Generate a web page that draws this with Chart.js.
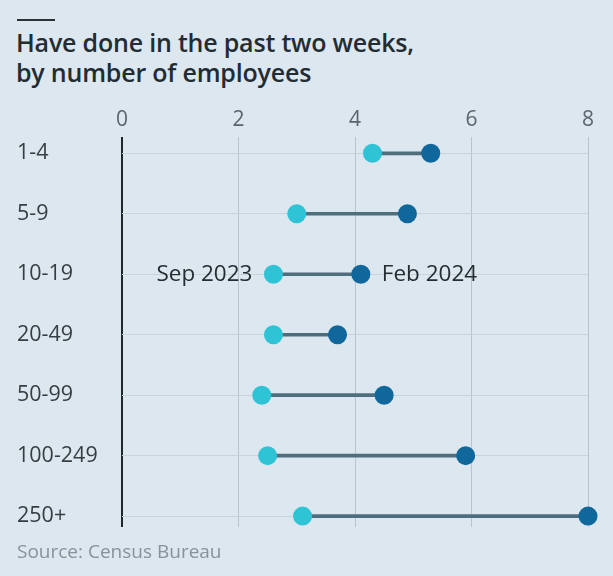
<!DOCTYPE html>
<html>
<head>
<meta charset="utf-8">
<title>Have done in the past two weeks</title>
<script src="https://cdn.jsdelivr.net/npm/chart.js@4.4.1/dist/chart.umd.min.js"></script>
<style>
  html, body { margin: 0; padding: 0; }
  body {
    width: 613px; height: 576px; position: relative; overflow: hidden;
    background: #dce7ef; font-family: "Open Sans", sans-serif;
  }
  .rule { position: absolute; left: 17px; top: 19px; width: 38px; height: 2px; background: #2a3238; }
  h1 {
    position: absolute; left: 16px; top: 27px; margin: 0;
    font-size: 25px; line-height: 30px; font-weight: 600; color: #232c33;
    letter-spacing: -0.2px;
  }
  .source { position: absolute; left: 17px; top: 538px; font-size: 19px; color: #87929a; }
  .plot { position: absolute; left: 0; top: 0; width: 613px; height: 576px; }
</style>
</head>
<body>
<div class="rule"></div>
<h1>Have done in the past two weeks,<br>by number of employees</h1>
<div class="plot"><canvas id="dumbbell" width="613" height="576"></canvas></div>
<div class="source">Source: Census Bureau</div>

<script>
// firm size bands, top to bottom
const sizeBands = ["1-4", "5-9", "10-19", "20-49", "50-99", "100-249", "250+"];
const sep2023 = [4.3, 3.0, 2.6, 2.6, 2.4, 2.5, 3.1];
const feb2024 = [5.3, 4.9, 4.1, 3.7, 4.5, 5.9, 8.0];
const xTicks = [0, 2, 4, 6, 8];
const seriesNames = ["Sep 2023", "Feb 2024"];
const labelRow = 2; // row that carries the series names

(function () {
  "use strict";

  const SEP_COLOR = "#2fc3d6";
  const FEB_COLOR = "#0f679b";
  const LINK_COLOR = "#4e6e7e";

  // writes the series names beside the dots of one row
  const seriesLabels = {
    id: "seriesLabels",
    afterDatasetsDraw(chart) {
      const ctx = chart.ctx;
      const sepPt = chart.getDatasetMeta(1).data[labelRow];
      const febPt = chart.getDatasetMeta(2).data[labelRow];
      ctx.save();
      ctx.font = '22.5px "Open Sans", sans-serif';
      ctx.fillStyle = "#252d33";
      ctx.textBaseline = "middle";
      ctx.textAlign = "right";
      ctx.fillText(seriesNames[0], sepPt.x - 21, sepPt.y);
      ctx.textAlign = "left";
      ctx.fillText(seriesNames[1], febPt.x + 21, febPt.y);
      ctx.restore();
    }
  };

  const dotStyle = {
    type: "line",
    showLine: false,
    pointRadius: 9.5,
    pointHoverRadius: 9.5,
    pointBorderWidth: 0,
    clip: false
  };

  new Chart(document.getElementById("dumbbell"), {
    type: "bar",
    data: {
      datasets: [
        {
          type: "bar",
          data: sizeBands.map((_, i) => ({ y: i, x: [sep2023[i], feb2024[i]] })),
          backgroundColor: LINK_COLOR,
          barThickness: 3,
          order: 3
        },
        Object.assign({}, dotStyle, {
          data: sizeBands.map((_, i) => ({ x: sep2023[i], y: i })),
          pointBackgroundColor: SEP_COLOR,
          order: 1
        }),
        Object.assign({}, dotStyle, {
          data: sizeBands.map((_, i) => ({ x: feb2024[i], y: i })),
          pointBackgroundColor: FEB_COLOR,
          order: 2
        })
      ]
    },
    options: {
      indexAxis: "y",
      responsive: false,
      animation: false,
      layout: { padding: { left: 17, top: 107, right: 25, bottom: 49 } },
      plugins: { legend: { display: false }, tooltip: { enabled: false } },
      scales: {
        x: {
          type: "linear",
          position: "top",
          min: 0,
          max: 8,
          afterBuildTicks: (scale) => { scale.ticks = xTicks.map((v) => ({ value: v })); },
          afterFit: (scale) => { scale.height = 30; },
          border: { display: false },
          grid: {
            drawTicks: false,
            color: (c) => (c.tick && c.tick.value === 0 ? "#1f272d" : "#b8c5cf"),
            lineWidth: (c) => (c.tick && c.tick.value === 0 ? 2 : 1)
          },
          ticks: {
            padding: 4,
            color: "#5a656d",
            font: { family: "Open Sans", size: 21 }
          }
        },
        y: {
          type: "linear",
          reverse: true,
          offset: false,
          min: -0.27,
          max: 6.18,
          afterBuildTicks: (scale) => { scale.ticks = sizeBands.map((_, i) => ({ value: i })); },
          afterFit: (scale) => { scale.width = 105; },
          border: { display: false },
          grid: { offset: false, drawTicks: false, color: "#c8d4dc" },
          ticks: {
            callback: (v) => sizeBands[v],
            crossAlign: "far",
            padding: 0,
            color: "#363e44",
            font: { family: "Open Sans", size: 21.5 }
          }
        }
      }
    },
    plugins: [seriesLabels]
  });
})();
</script>
</body>
</html>
